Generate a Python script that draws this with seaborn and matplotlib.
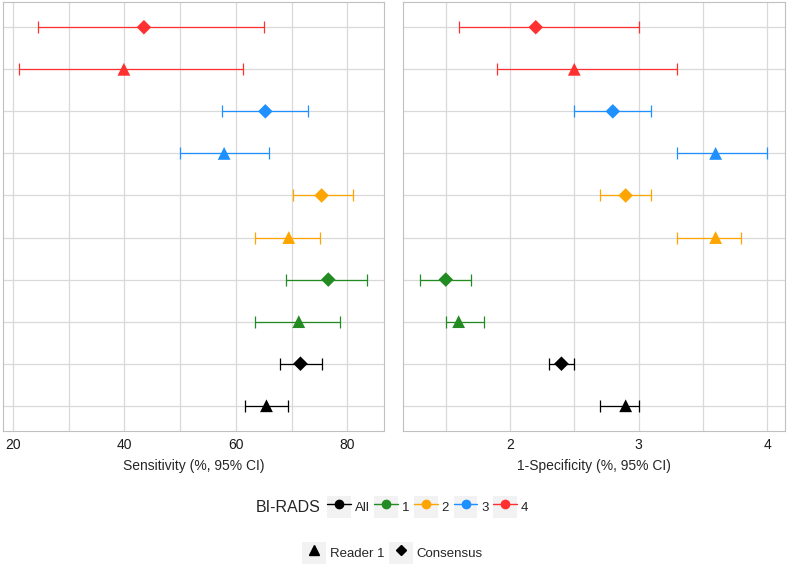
import numpy as np
import pandas as pd
import matplotlib.pyplot as plt
import seaborn as sns
from matplotlib.lines import Line2D
from matplotlib.patches import Rectangle
from matplotlib.legend_handler import HandlerTuple

# rows from bottom to top
birads = ['All', 'All', '1', '1', '2', '2', '3', '3', '4', '4']
reader = ['Reader 1', 'Consensus'] * 5

sens = [65.5, 71.6, 71.3, 76.6, 69.5, 75.4, 57.9, 65.3, 39.9, 43.5]
sens_lo = [61.6, 68.0, 63.4, 69.0, 63.5, 70.2, 50.0, 57.6, 21.1, 24.4]
sens_hi = [69.4, 75.5, 78.7, 83.5, 75.1, 81.0, 65.9, 73.0, 61.3, 65.1]

fpr = [2.9, 2.4, 1.6, 1.5, 3.6, 2.9, 3.6, 2.8, 2.5, 2.2]
fpr_lo = [2.7, 2.3, 1.5, 1.3, 3.3, 2.7, 3.3, 2.5, 1.9, 1.6]
fpr_hi = [3.0, 2.5, 1.8, 1.7, 3.8, 3.1, 4.0, 3.1, 3.3, 3.0]

birads_levels = ['All', '1', '2', '3', '4']
birads_colors = ['black', '#228B22', '#FFA500', '#1E90FF', '#FF3030']
reader_levels = ['Reader 1', 'Consensus']
reader_markers = ['^', 'D']

df = pd.DataFrame({'birads': birads, 'reader': reader,
                   'sens': sens, 'sens_lo': sens_lo, 'sens_hi': sens_hi,
                   'fpr': fpr, 'fpr_lo': fpr_lo, 'fpr_hi': fpr_hi})
df['row'] = np.arange(len(df))

sns.set_style('white')
plt.rcParams['font.family'] = ['Liberation Sans', 'DejaVu Sans']

W, H = 787, 566
fig = plt.figure(figsize=(W / 100, H / 100), dpi=100)
ax1 = fig.add_axes([3 / W, 1 - 431 / H, 381 / W, 429 / H])
ax2 = fig.add_axes([403 / W, 1 - 431 / H, 382 / W, 429 / H])

palette = dict(zip(birads_levels, birads_colors))


def draw_panel(ax, col, lo, hi):
    for level, color in palette.items():
        sub = df[df['birads'] == level]
        ax.errorbar(sub[col], sub['row'],
                    xerr=[sub[col] - sub[lo], sub[hi] - sub[col]],
                    fmt='none', ecolor=color, elinewidth=0.9,
                    capsize=4.3, capthick=0.9, zorder=2)
    sns.scatterplot(data=df, x=col, y='row', hue='birads',
                    hue_order=birads_levels, palette=palette,
                    style='reader', style_order=reader_levels,
                    markers=dict(zip(reader_levels, reader_markers)),
                    size='reader', sizes={'Reader 1': 85, 'Consensus': 55},
                    linewidth=0, legend=False, ax=ax, zorder=3)
    ax.set_ylim(-0.6, len(df) - 0.4)
    ax.set_yticks(df['row'])
    ax.set_yticklabels([])
    ax.set_ylabel('')
    ax.grid(which='major', color='#d9d9d9', lw=0.9)
    ax.grid(which='minor', axis='x', color='#d9d9d9', lw=0.9)
    ax.set_axisbelow(True)
    for sp in ax.spines.values():
        sp.set_color('#c0c0c0')
        sp.set_linewidth(0.8)
    ax.tick_params(axis='both', which='major', length=2.5, width=0.8,
                   color='#c0c0c0', pad=2.5, labelsize=10,
                   labelcolor='#1a1a1a')
    ax.tick_params(axis='x', which='minor', length=0)


draw_panel(ax1, 'sens', 'sens_lo', 'sens_hi')
ax1.set_xlim(18.2, 86.6)
ax1.set_xticks([20, 40, 60, 80])
ax1.set_xticks([30, 50, 70], minor=True)
ax1.set_xlabel('Sensitivity (%, 95% CI)', fontsize=10, labelpad=5)

draw_panel(ax2, 'fpr', 'fpr_lo', 'fpr_hi')
ax2.set_xlim(1.167, 4.14)
ax2.set_xticks([2, 3, 4])
ax2.set_xticks([1.5, 2.5, 3.5], minor=True)
ax2.set_xlabel('1-Specificity (%, 95% CI)', fontsize=10, labelpad=5)

# legends
key_bg = dict(facecolor='#f2f2f2', edgecolor='none')
h1 = [(Rectangle((0, 0), 1, 1, **key_bg),
       Line2D([], [], color=c, lw=1, marker='o', markersize=6))
      for c in birads_colors]
fig.text(256 / W, 1 - 507 / H, 'BI-RADS', fontsize=11.5, va='center', ha='left')
fig.legend(h1, birads_levels, loc='center left',
           bbox_to_anchor=(327 / W, 1 - 507 / H), ncol=5, frameon=False,
           handler_map={tuple: HandlerTuple(ndivide=1, pad=0)},
           handlelength=1.8, handleheight=2.2, handletextpad=0.3,
           columnspacing=0.35, borderpad=0, borderaxespad=0, fontsize=9.5)

h2 = [(Rectangle((0, 0), 1, 1, **key_bg),
       Line2D([], [], color='black', lw=0, marker=m, markersize=ms))
      for m, ms in zip(reader_markers, [7, 5.5])]
fig.legend(h2, reader_levels, loc='center left',
           bbox_to_anchor=(302 / W, 1 - 553 / H), ncol=2, frameon=False,
           handler_map={tuple: HandlerTuple(ndivide=1, pad=0)},
           handlelength=1.8, handleheight=2.2, handletextpad=0.3,
           columnspacing=0.35, borderpad=0, borderaxespad=0, fontsize=9.5)

fig.savefig('out.png', dpi=100)
